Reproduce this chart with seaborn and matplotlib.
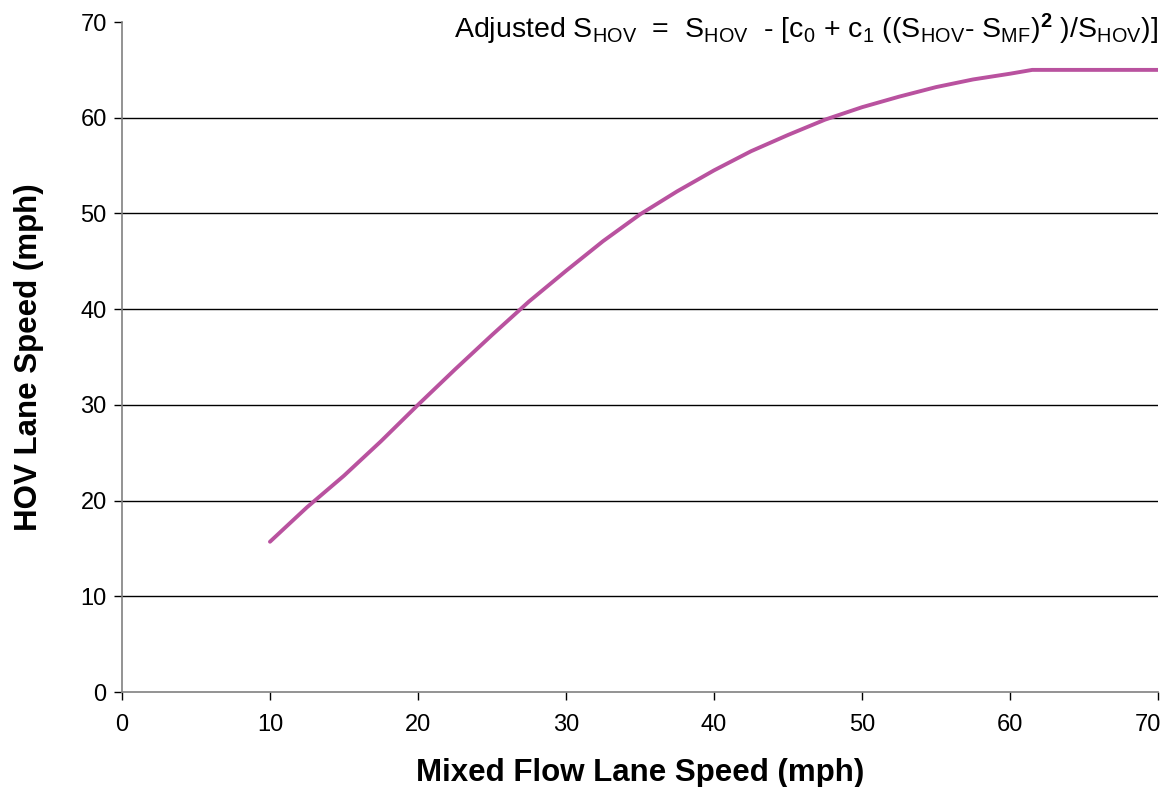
import numpy as np
import pandas as pd
import seaborn as sns
import matplotlib.pyplot as plt
from matplotlib.transforms import ScaledTranslation

# values
mixed_speed = [10, 12.5, 15, 17.5, 20, 22.5, 25, 27.5, 30, 32.5, 35, 37.5, 40,
               42.5, 45, 47.5, 50, 52.5, 55, 57.5, 60, 61.5, 65, 70]
hov_speed = [15.7, 19.3, 22.6, 26.2, 30.0, 33.7, 37.3, 40.8, 44.0, 47.1, 49.9, 52.3, 54.5,
             56.5, 58.2, 59.8, 61.1, 62.2, 63.2, 64.0, 64.6, 65.0, 65.0, 65.0]
x_ticks = [0, 10, 20, 30, 40, 50, 60, 70]
y_ticks = [0, 10, 20, 30, 40, 50, 60, 70]

df = pd.DataFrame({"mf": mixed_speed, "hov": hov_speed})

sns.set_style("ticks")
plt.rcParams['font.family'] = ['Liberation Sans', 'DejaVu Sans']
plt.rcParams['mathtext.fontset'] = 'custom'
plt.rcParams['mathtext.rm'] = 'Liberation Sans'
plt.rcParams['mathtext.it'] = 'Liberation Sans'
plt.rcParams['mathtext.bf'] = 'Liberation Sans:bold'
plt.rcParams['text.color'] = 'black'
plt.rcParams['axes.labelcolor'] = 'black'
plt.rcParams['xtick.color'] = 'black'
plt.rcParams['ytick.color'] = 'black'

fig = plt.figure(figsize=(11.67, 7.87), dpi=100)
ax = fig.add_axes([0.1045, 0.1207, 0.8878, 0.8513])

sns.lineplot(x="mf", y="hov", data=df, ax=ax, color="#B9529F", linewidth=2.8)

ax.set_xlim(0, 70)
ax.set_ylim(0, 70)
ax.set_xticks(x_ticks)
ax.set_yticks(y_ticks)
ax.tick_params(axis='both', labelsize=17, length=6, width=1, direction='out')
ax.tick_params(axis='x', pad=10)
ax.tick_params(axis='y', pad=5)

# last x label sits a little left of its tick, as in the original
last = ax.get_xticklabels()[-1]
last.set_transform(last.get_transform() + ScaledTranslation(-0.1, 0, fig.dpi_scale_trans))

ax.yaxis.grid(True, color='black', linewidth=1)
gl = ax.yaxis.get_gridlines()
gl[0].set_visible(False)
gl[-1].set_visible(False)

for s in ['top', 'right']:
    ax.spines[s].set_visible(False)
for s in ['left', 'bottom']:
    ax.spines[s].set_color('#808080')
    ax.spines[s].set_linewidth(1.2)

ax.set_xlabel('Mixed Flow Lane Speed (mph)', fontsize=22.5, fontweight='bold', labelpad=16)
ax.set_ylabel('HOV Lane Speed (mph)', fontsize=22.5, fontweight='bold', labelpad=26)

formula = (r'Adjusted S$_{\mathrm{HOV}}$  =  S$_{\mathrm{HOV}}$  - [c$_{\mathrm{0}}$ + c$_{\mathrm{1}}$'
           r' ((S$_{\mathrm{HOV}}$- S$_{\mathrm{MF}}$)$^{\mathbf{2}}$ )/S$_{\mathrm{HOV}}$)]')
ax.text(1.0, 0.976, formula, transform=ax.transAxes, ha='right', va='baseline', fontsize=20.5)

fig.savefig("out.png", dpi=100)
